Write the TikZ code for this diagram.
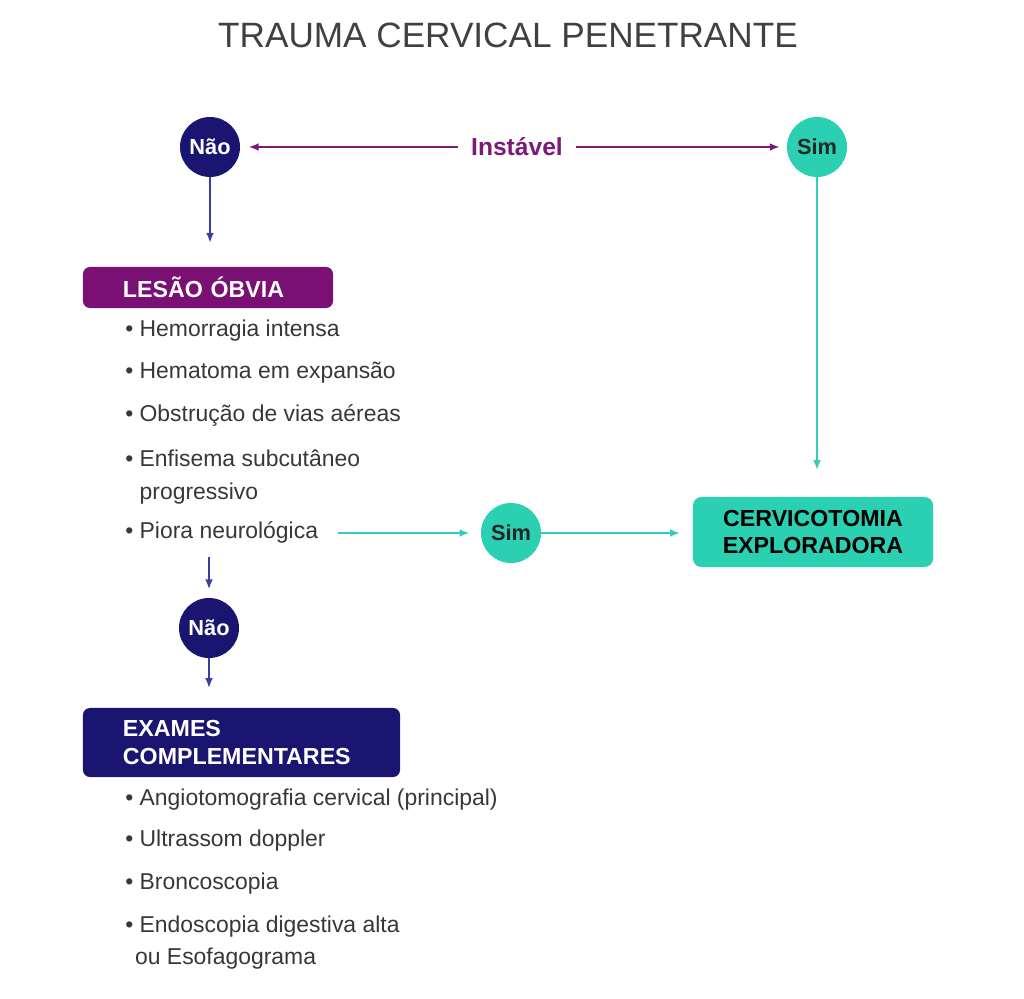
\documentclass[tikz,border=0pt]{standalone}
\usepackage{fontspec}
\setmainfont{Liberation Sans}
\usepackage{tikz}
\usetikzlibrary{calc,arrows.meta,positioning}

\definecolor{navy}{RGB}{26,21,112}
\definecolor{lilac}{RGB}{122,16,116}
\definecolor{tealc}{RGB}{43,208,178}
\definecolor{navyline}{RGB}{58,62,158}
\definecolor{lilacline}{RGB}{125,26,120}
\definecolor{tealline}{RGB}{52,206,190}
\definecolor{textgray}{RGB}{55,55,55}

\begin{document}
\begin{tikzpicture}[x=0.025cm,y=-0.025cm,
    circ/.style={circle,minimum size=1.5cm,inner sep=0pt,font=\bfseries\fontsize{15.5}{18}\selectfont},
    nao/.style={circ,fill=navy,text=white},
    sim/.style={circ,fill=tealc,text=black!85},
    box/.style={rounded corners=5pt,inner xsep=1cm,inner ysep=0pt,align=left,
        font=\bfseries\fontsize{16.5}{19.5}\selectfont},
    item/.style={anchor=west,align=left,text=textgray,inner sep=0pt,
        font=\fontsize{16.3}{22.8}\selectfont},
    link/.style={line width=1.3pt,-{Latex[length=7pt,width=5.5pt]}}]
    \useasboundingbox (0,0) rectangle (1024,998);
    % title
    \node[text=black!75,font=\fontsize{25}{30}\selectfont] (title) at (508,35) {TRAUMA CERVICAL PENETRANTE};
    % top row
    \node[nao] (nao1) at (210,147) {Não};
    \node[sim] (sim1) at (817,147) {Sim};
    \node[text=lilacline,inner xsep=9pt,font=\bfseries\fontsize{17.5}{20}\selectfont] (inst) at (517,147) {Instável};
    \draw[link,lilacline,shorten >=6pt] (inst) -- (nao1);
    \draw[link,lilacline,shorten >=5pt] (inst) -- (sim1);
    % obvious injury
    \node[box,fill=lilac,text=white,text width=4.25cm,minimum height=1.025cm] (lesao) at (208,287.5) {LESÃO ÓBVIA};
    \draw[link,navyline,shorten >=17pt] (nao1) -- (nao1 |- lesao.north);
    \node[item] (hem) at (125,331) {•~Hemorragia intensa};
    \node[item] (hemat) at (125,373) {•~Hematoma em expansão};
    \node[item] (obst) at (125,415) {•~Obstrução de vias aéreas};
    \node[item,anchor=north west] (enf) at (125,450) {•~Enfisema subcutâneo\\\hphantom{•~}progressivo};
    \node[item] (piora) at (125,532) {•~Piora neurológica};
    % yes path
    \node[sim] (sim2) at (511,533) {Sim};
    \node[box,fill=tealc,text=black,align=center,inner xsep=0.4cm,text width=5.2cm,minimum height=1.75cm,rounded corners=6pt] (cervic) at (813,532) {CERVICOTOMIA\\EXPLORADORA};
    \draw[link,tealline,shorten <=14pt,shorten >=8pt] (piora.east |- sim2) -- (sim2);
    \draw[link,tealline,shorten >=9pt] (sim2) -- (sim2 -| cervic.west);
    \draw[link,tealline,shorten >=19pt] (sim1) -- (sim1 |- cervic.north);
    % no path
    \node[nao] (nao2) at (209,628) {Não};
    \draw[link,navyline,shorten <=10pt,shorten >=6pt] (piora.south -| nao2) -- (nao2);
    \node[box,fill=navy,text=white,text width=5.925cm,minimum height=1.725cm] (exames) at (241.5,742.5) {EXAMES\\COMPLEMENTARES};
    \draw[link,navyline,shorten >=14pt] (nao2) -- (nao2 |- exames.north);
    \node[item] (angio) at (125,800) {•~Angiotomografia cervical (principal)};
    \node[item] (usg) at (125,841) {•~Ultrassom doppler};
    \node[item] (bronc) at (125,884) {•~Broncoscopia};
    \node[item,anchor=north west] (endo) at (125,916) {•~Endoscopia digestiva alta\\\hspace{7pt}ou Esofagograma};
\end{tikzpicture}
\end{document}
